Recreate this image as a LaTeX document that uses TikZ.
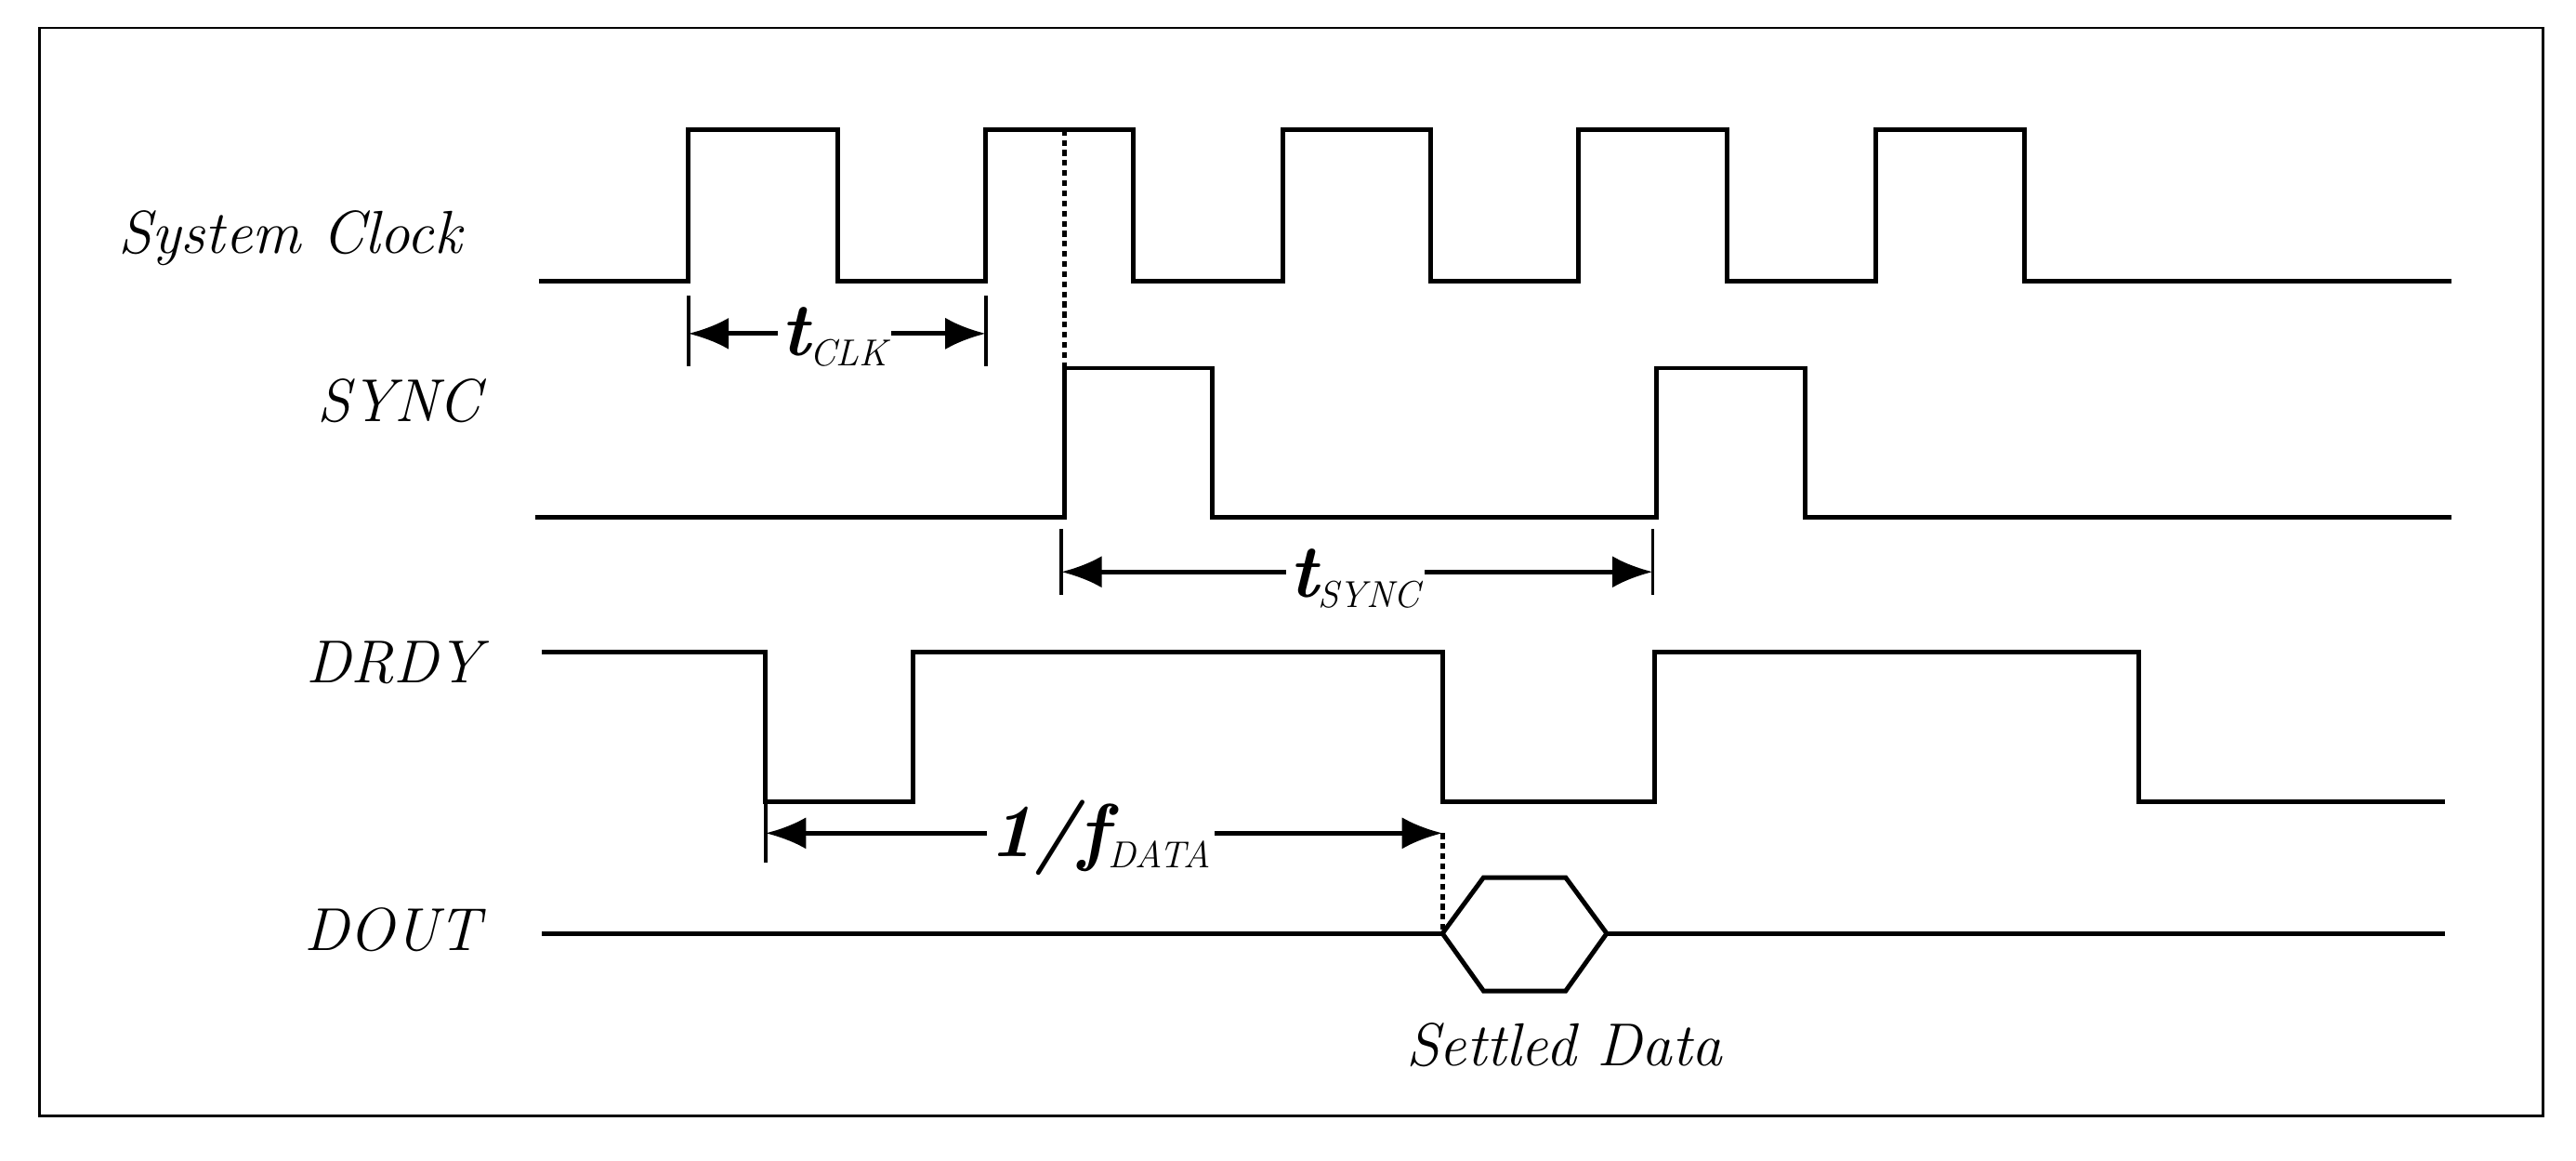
\documentclass[tikz,border=0pt]{standalone}
\usetikzlibrary{positioning}
\usetikzlibrary{arrows.meta}

\begin{document}
\begin{tikzpicture}[x=0.02cm, y=-0.02cm,
signal/.style = {line width=1.6pt, line join=miter},
label/.style = {font=\fontsize{21}{25}\selectfont\itshape, anchor=east},
dim/.style = {line width=1.6pt, {Latex[length=14pt,width=11pt]}-{Latex[length=14pt,width=11pt]}},
tick/.style = {line width=1.2pt},
guide/.style = {line width=1.5pt, dash pattern=on 2pt off 1.5pt},
dimtext/.style = {fill=white, inner sep=1pt, font=\fontsize{26}{30}\selectfont\bfseries\itshape}]

\useasboundingbox (0,0) rectangle (1568,706);
\draw[line width=0.9pt] (24,17) rectangle (1548,679);

% signal labels
\node[label] (clk label) at (287,145) {System Clock};
\node[label] (sync label) at (299,244) {SYNC};
\node[label] (drdy label) at (299,403) {DRDY};
\node[label] (dout label) at (299,566) {DOUT};
\node[font=\fontsize{21}{25}\selectfont\itshape] (settled) at (952,636) {Settled Data};

% waveforms
\draw[signal] (328,171) -- (419,171) -- (419,79) -- (510,79) -- (510,171) -- (600,171) -- (600,79)
  -- (690,79) -- (690,171) -- (781,171) -- (781,79) -- (871,79) -- (871,171) -- (961,171)
  -- (961,79) -- (1051,79) -- (1051,171) -- (1142,171) -- (1142,79) -- (1232,79) -- (1232,171) -- (1492,171);
\draw[signal] (326,315) -- (648,315) -- (648,224) -- (738,224) -- (738,315) -- (1008,315)
  -- (1008,224) -- (1099,224) -- (1099,315) -- (1492,315);
\draw[signal] (330,397) -- (466,397) -- (466,488) -- (556,488) -- (556,397) -- (878,397)
  -- (878,488) -- (1007,488) -- (1007,397) -- (1302,397) -- (1302,488) -- (1488,488);
\draw[signal] (330,568) -- (878,568);
\draw[signal] (878,568) -- (903,534) -- (953,534) -- (978,568) -- (953,603) -- (903,603) -- cycle;
\draw[signal] (978,568) -- (1488,568);

% guides and ticks
\draw[guide] (648,79) -- (648,224);
\draw[guide] (878,507) -- (878,568);
\draw[tick] (419,180) -- (419,223);
\draw[tick] (600,180) -- (600,223);
\draw[tick] (646,322) -- (646,362);
\draw[tick] (1006,322) -- (1006,362);
\draw[tick] (466,488) -- (466,525);

% time intervals
\coordinate (clk a) at (419,203);
\coordinate (clk b) at (600,203);
\coordinate (sync a) at (646,348);
\coordinate (sync b) at (1006,348);
\coordinate (data a) at (466,507);
\coordinate (data b) at (878,507);

\draw[dim] (clk a) -- (clk b);
\draw[dim] (sync a) -- (sync b);
\draw[dim] (data a) -- (data b);
\node[dimtext] (tclk) at (508,205) {t\textsubscript{\fontsize{13}{15}\selectfont\mdseries CLK}};
\node[dimtext] (tsync) at (825,352) {t\textsubscript{\fontsize{13}{15}\selectfont\mdseries SYNC}};
\node[dimtext] (fdata) at (670,510) {1/f\textsubscript{\fontsize{13}{15}\selectfont\mdseries DATA}};

\end{tikzpicture}
\end{document}
